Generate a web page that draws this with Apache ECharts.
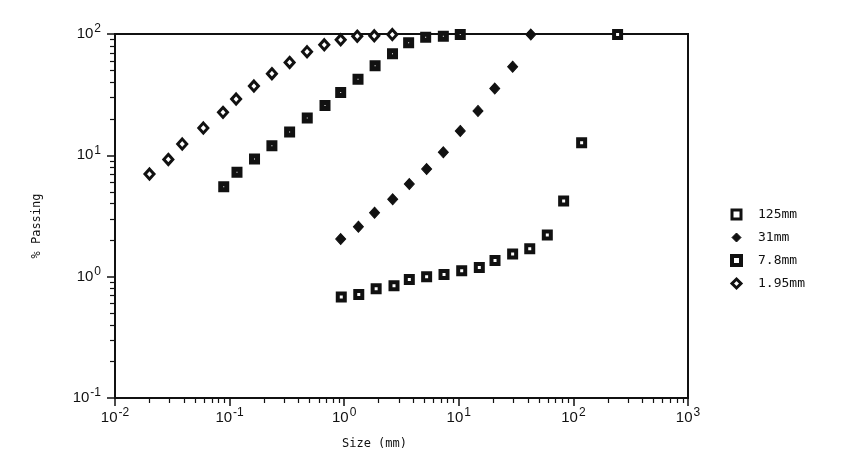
<!DOCTYPE html>
<html>
<head>
<meta charset="utf-8">
<script src="https://cdn.jsdelivr.net/npm/echarts@6/dist/echarts.min.js"></script>
<style>
  html, body { margin: 0; padding: 0; background: #fff; }
  #grafico { width: 847px; height: 475px; }
</style>
</head>
<body>
<div id="grafico"></div>
<script>
// size (mm) / % passing
var x_125 = [0.943, 1.34, 1.90, 2.72, 3.70, 5.24, 7.43, 10.6, 15.1, 20.7, 29.5, 41.6, 59.2, 82.2, 118, 243];
var y_125 = [0.680, 0.714, 0.796, 0.842, 0.948, 1.00, 1.04, 1.12, 1.19, 1.36, 1.54, 1.70, 2.21, 4.20, 12.7, 99];

var x_31 = [0.932, 1.33, 1.84, 2.65, 3.70, 5.24, 7.33, 10.3, 14.7, 20.6, 29.5, 42.5];
var y_31 = [2.04, 2.58, 3.37, 4.34, 5.80, 7.70, 10.6, 15.9, 23.2, 35.5, 53.8, 99];

var x_78 = [0.0889, 0.116, 0.165, 0.234, 0.334, 0.476, 0.680, 0.932, 1.32, 1.86, 2.64, 3.65, 5.14, 7.33, 10.3];
var y_78 = [5.51, 7.24, 9.31, 12.0, 15.6, 20.3, 25.7, 33.0, 42.3, 54.8, 68.9, 84.7, 94.1, 96.0, 99];

var x_195 = [0.0200, 0.0292, 0.0386, 0.0590, 0.0876, 0.114, 0.163, 0.234, 0.334, 0.474, 0.670, 0.932, 1.30, 1.83, 2.63];
var y_195 = [7.01, 9.25, 12.4, 16.8, 22.6, 29.1, 37.2, 47.1, 58.3, 71.4, 81.5, 89.6, 96.0, 96.6, 99];

var nomes = ['125mm', '31mm', '7.8mm', '1.95mm'];

// decades of the axes and the 2..9 minor ticks between them
var decadas_x = [0.01, 0.1, 1, 10, 100, 1000];
var decadas_y = [0.1, 1, 10, 100];

function menores(decadas) {
    var lista = [];
    for (var i = 0; i < decadas.length - 1; i++) {
        for (var k = 2; k <= 9; k++) {
            lista.push(+(decadas[i] * k).toPrecision(3));
        }
    }
    return lista;
}

function pares(xs, ys) {
    return xs.map(function (x, i) { return [x, ys[i]]; });
}

function potencia(value) {
    var e = Math.round(Math.log10(value));
    return '{b|10}{e|' + e + '}';
}

var rotulo_rich = {
    b: { fontFamily: 'Liberation Sans', fontSize: 15, color: '#111' },
    e: { fontFamily: 'Liberation Sans', fontSize: 12, color: '#111', padding: [0, 0, 10, 1] }
};

// marker styles
var estilo_125 = { color: '#fff', borderColor: '#111', borderWidth: 4, opacity: 1 };
var estilo_31 = { color: '#111', borderColor: '#111', borderWidth: 1, opacity: 1 };
var estilo_78 = { color: '#fff', borderColor: '#111', borderWidth: 5, opacity: 1 };
var estilo_195 = { color: '#fff', borderColor: '#111', borderWidth: 3, opacity: 1 };

var myChart = echarts.init(document.getElementById('grafico'));

var option = {
    backgroundColor: '#fff',
    animation: false,
    grid: {
        left: 115, right: 159, top: 34, bottom: 77,
        show: true, borderColor: '#111', borderWidth: 2, backgroundColor: 'transparent'
    },
    legend: {
        orient: 'vertical',
        left: 725,
        top: 203,
        itemGap: 10,
        itemWidth: 9,
        itemHeight: 9,
        textStyle: { fontFamily: 'DejaVu Sans Mono', fontSize: 13, lineHeight: 13, color: '#111', padding: [0, 0, 0, 12] },
        data: [
            { name: nomes[0], icon: 'rect', itemStyle: { color: '#fff', borderColor: '#111', borderWidth: 3 } },
            { name: nomes[1], icon: 'diamond', itemStyle: { color: '#111', borderColor: '#111', borderWidth: 1 } },
            { name: nomes[2], icon: 'rect', itemStyle: { color: '#fff', borderColor: '#111', borderWidth: 4 } },
            { name: nomes[3], icon: 'diamond', itemStyle: { color: '#fff', borderColor: '#111', borderWidth: 3 } }
        ]
    },
    xAxis: [{
        type: 'log', logBase: 10, min: 0.01, max: 1000,
        name: 'Size (mm)', nameLocation: 'middle', nameGap: 40,
        nameTextStyle: { fontFamily: 'DejaVu Sans Mono', fontSize: 12, color: '#111', padding: [0, 54, 0, 0] },
        axisLine: { lineStyle: { color: '#111', width: 2 } },
        axisTick: { show: true, length: 8, lineStyle: { color: '#111', width: 1.5 }, customValues: decadas_x },
        axisLabel: { margin: 9, formatter: potencia, rich: rotulo_rich, customValues: decadas_x },
        splitLine: { show: false }
    }, {
        type: 'log', logBase: 10, min: 0.01, max: 1000, position: 'bottom',
        axisLine: { show: false },
        axisTick: { show: true, length: 5, lineStyle: { color: '#111', width: 1.2 }, customValues: menores(decadas_x) },
        axisLabel: { show: false },
        splitLine: { show: false }
    }],
    yAxis: [{
        type: 'log', logBase: 10, min: 0.1, max: 100,
        name: '% Passing', nameLocation: 'middle', nameGap: 72, nameRotate: 90,
        nameTextStyle: { fontFamily: 'DejaVu Sans Mono', fontSize: 12, color: '#111', padding: [0, 0, 0, -20] },
        axisLine: { lineStyle: { color: '#111', width: 2 } },
        axisTick: { show: true, length: 8, lineStyle: { color: '#111', width: 1.5 }, customValues: decadas_y },
        axisLabel: { margin: 14, formatter: potencia, rich: rotulo_rich, customValues: decadas_y },
        splitLine: { show: false }
    }, {
        type: 'log', logBase: 10, min: 0.1, max: 100, position: 'left',
        axisLine: { show: false },
        axisTick: { show: true, length: 5, lineStyle: { color: '#111', width: 1.2 }, customValues: menores(decadas_y) },
        axisLabel: { show: false },
        splitLine: { show: false }
    }],
    series: [{
        name: nomes[0], type: 'scatter', symbol: 'rect', symbolSize: 7,
        itemStyle: estilo_125,
        data: pares(x_125, y_125)
    }, {
        name: nomes[1], type: 'scatter', symbol: 'diamond', symbolSize: [10, 11],
        itemStyle: estilo_31,
        data: pares(x_31, y_31)
    }, {
        name: nomes[2], type: 'scatter', symbol: 'rect', symbolSize: 6,
        itemStyle: estilo_78,
        data: pares(x_78, y_78)
    }, {
        name: nomes[3], type: 'scatter', symbol: 'diamond', symbolSize: [9, 10],
        itemStyle: estilo_195,
        data: pares(x_195, y_195)
    }]
};

myChart.setOption(option);
</script>
</body>
</html>
